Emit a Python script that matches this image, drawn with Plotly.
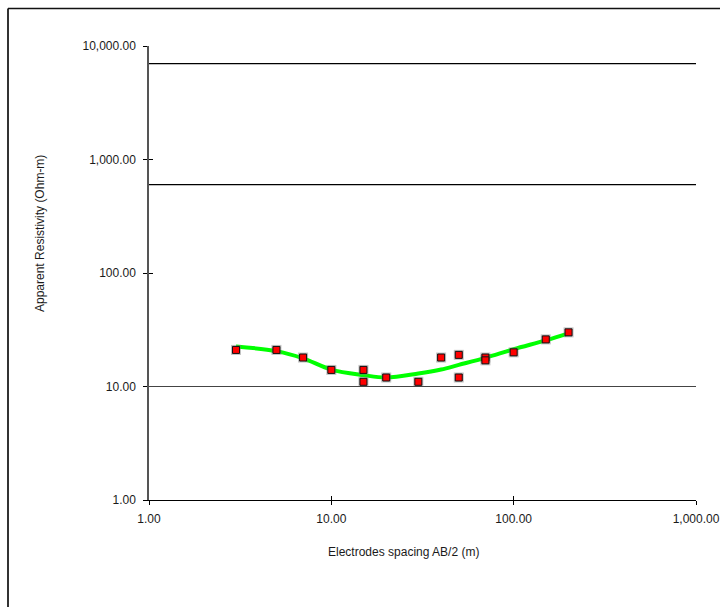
import plotly.graph_objects as go

# ---- data ----
spacing = [3, 5, 7, 10, 15, 15, 20, 30, 40, 50, 50, 70, 70, 100, 150, 200]
resistivity = [21, 21, 18, 14, 14, 11, 12, 11, 18, 19, 12, 18, 17, 20, 26, 30]

model_x = [3, 5, 7, 10, 15, 20, 30, 40, 50, 70, 100, 150, 200]
model_y = [22.5, 20.5, 17.7, 14.1, 12.6, 12.0, 13.0, 14.1, 15.5, 17.9, 21.3, 25.5, 29.4]

boundary_levels = [7000, 600]
grid_levels = [10]

x_ticks = [1, 10, 100, 1000]
y_ticks = [1, 10, 100, 1000, 10000]

x_title = "Electrodes spacing AB/2 (m)"
y_title = "Apparent Resistivity (Ohm-m)"

FONT = "Liberation Sans, Arial, sans-serif"
TXT = "#1a1a1a"

fig = go.Figure()

# model curve
fig.add_trace(go.Scatter(
    x=model_x, y=model_y, mode="lines",
    line=dict(color="#00ff00", width=4, shape="spline", smoothing=1.0),
    hoverinfo="skip", showlegend=False))

# marker halo
fig.add_trace(go.Scatter(
    x=spacing, y=resistivity, mode="markers",
    marker=dict(symbol="square", size=10, color="rgba(120,120,120,0.45)", line=dict(width=0)),
    hoverinfo="skip", showlegend=False))

# observed points
fig.add_trace(go.Scatter(
    x=spacing, y=resistivity, mode="markers",
    marker=dict(symbol="square", size=7, color="#ff0000", line=dict(color="#111111", width=1)),
    showlegend=False))

# invisible trace so the inside-tick overlay axes are drawn (ticks cross the axis lines)
fig.add_trace(go.Scatter(x=[x_ticks[0]], y=[y_ticks[0]], xaxis="x2", yaxis="y2",
                         mode="markers", marker=dict(opacity=0), hoverinfo="skip", showlegend=False))

for lv in boundary_levels:
    fig.add_shape(type="line", xref="paper", yref="y", x0=0, x1=1, y0=lv, y1=lv,
                  line=dict(color="#000000", width=1.3))
for lv in grid_levels:
    fig.add_shape(type="line", xref="paper", yref="y", x0=0, x1=1, y0=lv, y1=lv,
                  line=dict(color="#444444", width=1))

# outer frame (left and top edges; right/bottom lie outside the picture)
fx0 = (8 - 149) / 547
fy1 = (500 - 8.5) / 454
fig.add_shape(type="line", xref="paper", yref="paper", x0=fx0, x1=fx0, y0=(500 - 620) / 454, y1=fy1,
              line=dict(color="#333333", width=2))
fig.add_shape(type="line", xref="paper", yref="paper", x0=fx0, x1=(730 - 149) / 547, y0=fy1, y1=fy1,
              line=dict(color="#111111", width=1.3))

fmt = lambda v: f"{v:,.2f}"

fig.update_layout(
    width=720, height=607, autosize=False,
    margin=dict(l=149, r=24, t=46, b=107, autoexpand=False),
    paper_bgcolor="white", plot_bgcolor="white",
    font=dict(family=FONT, size=12, color=TXT),
    xaxis=dict(type="log", range=[0, 3], tickmode="array", tickvals=x_ticks,
               ticktext=[fmt(v) for v in x_ticks], showgrid=False, zeroline=False,
               showline=True, linecolor="#000000", linewidth=1, automargin=False,
               ticks="outside", ticklen=4, tickcolor="#000000", tickwidth=1,
               ticklabelstandoff=4, tickfont=dict(size=12, color=TXT)),
    yaxis=dict(type="log", range=[0, 4], tickmode="array", tickvals=y_ticks,
               ticktext=[fmt(v) for v in y_ticks], showgrid=False, zeroline=False,
               showline=True, linecolor="#555555", linewidth=1.5, automargin=False,
               ticks="outside", ticklen=4, tickcolor="#000000", tickwidth=1,
               ticklabelstandoff=5, tickfont=dict(size=12, color=TXT)),
    xaxis2=dict(type="log", range=[0, 3], overlaying="x", tickmode="array", tickvals=x_ticks,
                showticklabels=False, showgrid=False, zeroline=False, showline=False,
                automargin=False,
                ticks="inside", ticklen=4, tickcolor="#000000", tickwidth=1, anchor="y2"),
    yaxis2=dict(type="log", range=[0, 4], overlaying="y", tickmode="array", tickvals=y_ticks,
                showticklabels=False, showgrid=False, zeroline=False, showline=False,
                automargin=False,
                ticks="inside", ticklen=4, tickcolor="#000000", tickwidth=1, anchor="x2"),
    annotations=[
        dict(text=x_title, xref="paper", yref="paper", x=(403 - 149) / 547, y=(500 - 552) / 454,
             showarrow=False, xanchor="center", yanchor="middle", font=dict(size=12, color=TXT)),
        dict(text=y_title, xref="paper", yref="paper", x=(40 - 149) / 547, y=(500 - 233) / 454,
             showarrow=False, xanchor="center", yanchor="middle", textangle=-90,
             font=dict(size=12, color=TXT)),
    ],
)

fig.write_html("out.html", config={"responsive": False, "displayModeBar": False})
